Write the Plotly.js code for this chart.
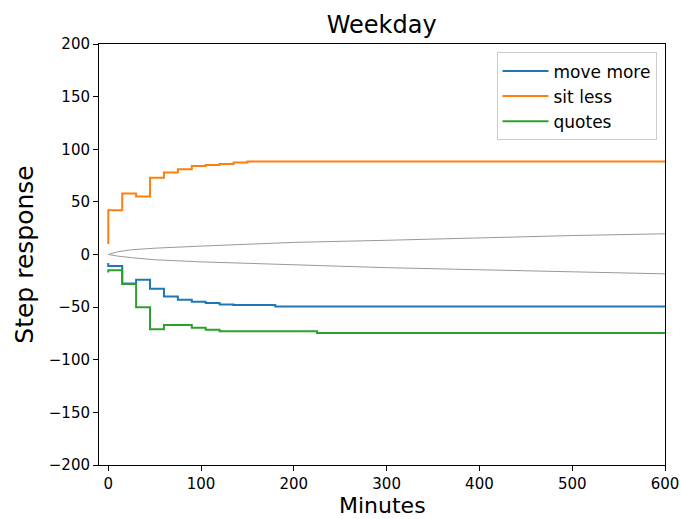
<!DOCTYPE html>
<html>
<head>
<meta charset="utf-8">
<script src="https://cdn.plot.ly/plotly-3.0.1.min.js"></script>
<style>html,body{margin:0;padding:0;background:#fff;}#chart{width:681px;height:519px;}</style>
</head>
<body>
<div id="chart"></div>
<script>
// Step times (minutes); the first time repeats to draw the initial jump at t=0
const stepTimes = [0, 0, 15, 30, 45, 60, 75, 90, 105, 120, 135, 150, 180, 225, 600];
const moveMore = [-8, -11, -27.5, -24, -32.5, -40, -43, -45, -46, -47.5, -48, -48, -49.5, -49.5, -49.5];
const sitLess  = [10, 42, 58, 55, 73, 78, 81, 84, 85, 86, 87.4, 88.4, 88.4, 88.4, 88.4];
const quotes   = [-17, -15, -28, -50, -71, -67, -67, -69.5, -71.5, -73, -73, -73, -73, -74.5, -74.5];

// Grey confidence envelope
const bandTimes = [0, 10, 25, 50, 100, 150, 200, 300, 400, 500, 600];
const bandUpper = [0, 2.5, 4.5, 6, 8, 10, 11.5, 13.5, 16, 18, 19.7];
const bandLower = [0, -1.5, -3, -5, -7, -8.5, -10, -12.5, -14.5, -16.5, -18.4];

const seriesNames = ['move more', 'sit less', 'quotes'];
const seriesColors = ['#1f77b4', '#ff7f0e', '#2ca02c'];
const xTicks = [0, 100, 200, 300, 400, 500, 600];
const yTicks = [-200, -150, -100, -50, 0, 50, 100, 150, 200];

const font = 'DejaVu Sans, sans-serif';

const traces = [
  {x: bandTimes, y: bandUpper, mode: 'lines', line: {color: '#999999', width: 1}, showlegend: false, hoverinfo: 'skip'},
  {x: bandTimes, y: bandLower, mode: 'lines', line: {color: '#999999', width: 1}, showlegend: false, hoverinfo: 'skip'}
];
[moveMore, sitLess, quotes].forEach((ys, i) => {
  traces.push({
    x: stepTimes, y: ys, mode: 'lines', name: seriesNames[i],
    line: {color: seriesColors[i], width: 2, shape: 'hv'}
  });
});

const layout = {
  width: 681, height: 519,
  margin: {l: 99, r: 16, t: 44, b: 54},
  paper_bgcolor: '#fff', plot_bgcolor: '#fff',
  font: {family: font, color: '#000'},
  title: {text: 'Weekday', font: {family: font, size: 24, color: '#000'}, x: 0.5605, xanchor: 'center', y: 0.953, yanchor: 'middle'},
  xaxis: {
    range: [-10, 600], tickvals: xTicks, ticktext: xTicks.map(String),
    showline: true, mirror: true, linecolor: '#000', linewidth: 1,
    ticks: 'outside', ticklen: 5, tickcolor: '#000', showgrid: false, zeroline: false,
    tickfont: {family: font, size: 15, color: '#000'}
  },
  yaxis: {
    range: [-200, 200], tickvals: yTicks,
    showline: true, mirror: true, linecolor: '#000', linewidth: 1,
    ticks: 'outside', ticklen: 5, tickcolor: '#000', showgrid: false, zeroline: false,
    tickfont: {family: font, size: 15, color: '#000'},
    title: {text: 'Step response', font: {family: font, size: 25, color: '#000'}, standoff: 8}
  },
  annotations: [{
    text: 'Minutes', xref: 'paper', yref: 'paper', x: 0.5, y: -0.097, xanchor: 'center', yanchor: 'middle',
    showarrow: false, borderpad: 0, font: {family: font, size: 22, color: '#000'}
  }],
  legend: {
    x: 0.985, xanchor: 'right', y: 0.98, yanchor: 'top',
    bgcolor: 'rgba(255,255,255,0.8)', bordercolor: '#cccccc', borderwidth: 1,
    itemwidth: 46,
    font: {family: font, size: 17, color: '#000'}
  },
  showlegend: true
};

Plotly.newPlot('chart', traces, layout, {staticPlot: true, displayModeBar: false});
</script>
</body>
</html>
